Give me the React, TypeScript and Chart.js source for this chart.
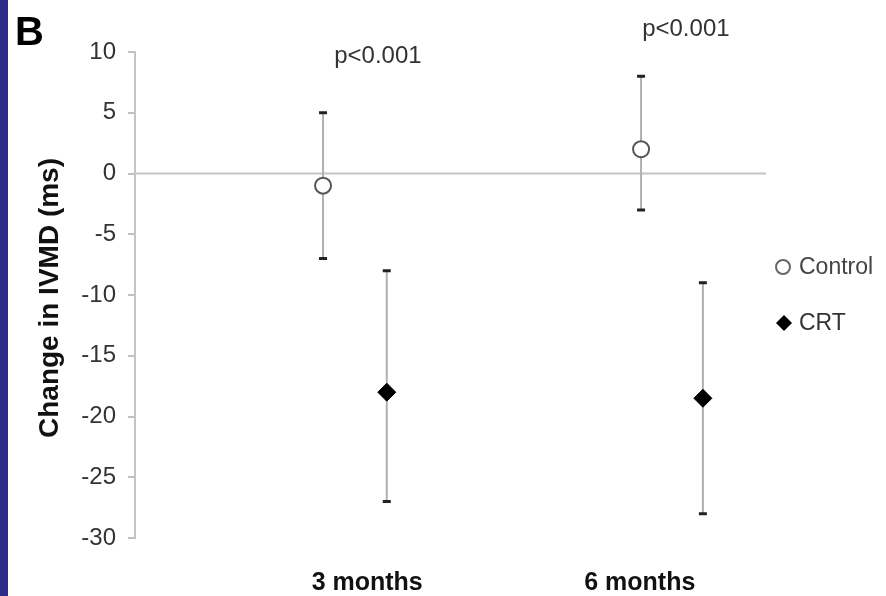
import React, { useEffect, useRef } from "react";
import { Chart, registerables } from "chart.js";

Chart.register(...registerables);

// ---- data ----
const groupLabels = ["3 months", "6 months"];
const groupLabelX = [36.8, 80.0];

const controlX = [29.8, 80.2];
const controlMean = [-1, 2];
const controlUpper = [5, 8];
const controlLower = [-7, -3];

const crtX = [39.9, 90.0];
const crtMean = [-18, -18.5];
const crtUpper = [-8, -9];
const crtLower = [-27, -28];

const pValueText = ["p<0.001", "p<0.001"];
const pValueX = [38.5, 87.3];
const pValueY = [9.6, 11.9];

const yTicks = [10, 5, 0, -5, -10, -15, -20, -25, -30];
const seriesNames = ["Control", "CRT"];
const yTitle = "Change in IVMD (ms)";
const panelLetter = "B";

const FONT = "'Liberation Sans', Arial, sans-serif";

const decorPlugin = {
  id: "decor",
  beforeDraw(chart: any) {
    const ctx = chart.ctx;
    ctx.save();
    ctx.fillStyle = "#ffffff";
    ctx.fillRect(0, 0, chart.width, chart.height);
    ctx.fillStyle = "#2c2b86";
    ctx.fillRect(0, 0, 8, chart.height);
    ctx.restore();
  },
  beforeDatasetsDraw(chart: any) {
    const ctx = chart.ctx;
    const xs = chart.scales.x;
    const ys = chart.scales.y;
    const area = chart.chartArea;
    ctx.save();
    // zero line
    const y0 = ys.getPixelForValue(0);
    ctx.strokeStyle = "#c4c4c4";
    ctx.lineWidth = 2;
    ctx.beginPath();
    ctx.moveTo(area.left, y0);
    ctx.lineTo(area.right, y0);
    ctx.stroke();
    // error bars
    const groups = [
      { x: controlX, up: controlUpper, lo: controlLower },
      { x: crtX, up: crtUpper, lo: crtLower },
    ];
    groups.forEach((g) => {
      g.x.forEach((xv, i) => {
        const px = xs.getPixelForValue(xv);
        const pu = ys.getPixelForValue(g.up[i]);
        const pl = ys.getPixelForValue(g.lo[i]);
        ctx.strokeStyle = "#b0b0b0";
        ctx.lineWidth = 2;
        ctx.beginPath();
        ctx.moveTo(px, pu);
        ctx.lineTo(px, pl);
        ctx.stroke();
        ctx.strokeStyle = "#222";
        ctx.lineWidth = 3;
        ctx.beginPath();
        ctx.moveTo(px - 4, pu);
        ctx.lineTo(px + 4, pu);
        ctx.moveTo(px - 4, pl);
        ctx.lineTo(px + 4, pl);
        ctx.stroke();
      });
    });
    ctx.restore();
  },
  afterDraw(chart: any) {
    const ctx = chart.ctx;
    const xs = chart.scales.x;
    const ys = chart.scales.y;
    ctx.save();
    // panel letter
    ctx.fillStyle = "#000";
    ctx.font = `bold 40px ${FONT}`;
    ctx.textAlign = "left";
    ctx.textBaseline = "alphabetic";
    ctx.fillText(panelLetter, 15, 45);
    // y title
    ctx.save();
    ctx.translate(50, 298);
    ctx.rotate(-Math.PI / 2);
    ctx.font = `bold 28px ${FONT}`;
    ctx.textAlign = "center";
    ctx.textBaseline = "middle";
    ctx.fillStyle = "#111";
    ctx.fillText(yTitle, 0, 0);
    ctx.restore();
    // p values
    ctx.font = `24px ${FONT}`;
    ctx.fillStyle = "#333";
    ctx.textAlign = "center";
    ctx.textBaseline = "middle";
    pValueText.forEach((t, i) => {
      ctx.fillText(t, xs.getPixelForValue(pValueX[i]), ys.getPixelForValue(pValueY[i]));
    });
    // legend
    ctx.textAlign = "left";
    ctx.font = `23px ${FONT}`;
    ctx.fillStyle = "#444";
    // control marker
    ctx.beginPath();
    ctx.arc(783, 267, 7, 0, Math.PI * 2);
    ctx.fillStyle = "#fff";
    ctx.fill();
    ctx.strokeStyle = "#666";
    ctx.lineWidth = 2;
    ctx.stroke();
    ctx.fillStyle = "#444";
    ctx.fillText(seriesNames[0], 799, 268);
    // crt marker
    ctx.beginPath();
    ctx.moveTo(784, 315);
    ctx.lineTo(792, 323);
    ctx.lineTo(784, 331);
    ctx.lineTo(776, 323);
    ctx.closePath();
    ctx.fillStyle = "#000";
    ctx.fill();
    ctx.fillStyle = "#333";
    ctx.fillText(seriesNames[1], 799, 324);
    ctx.restore();
  },
};

export default function App() {
  const ref = useRef<HTMLCanvasElement | null>(null);
  useEffect(() => {
    if (!ref.current) return;
    const chart = new Chart(ref.current, {
      type: "scatter",
      data: {
        datasets: [
          {
            label: seriesNames[0],
            data: controlX.map((x, i) => ({ x, y: controlMean[i] })),
            pointStyle: "circle",
            pointRadius: 8,
            pointBackgroundColor: "#ffffff",
            pointBorderColor: "#555",
            pointBorderWidth: 2,
          },
          {
            label: seriesNames[1],
            data: crtX.map((x, i) => ({ x, y: crtMean[i] })),
            pointStyle: "rectRot",
            pointRadius: 9,
            pointBackgroundColor: "#000",
            pointBorderColor: "#000",
            pointBorderWidth: 1,
          },
        ],
      },
      options: {
        animation: false,
        responsive: true,
        maintainAspectRatio: false,
        layout: { padding: { left: 0, right: 120, top: 52, bottom: 0 } },
        plugins: { legend: { display: false }, tooltip: { enabled: false } },
        scales: {
          x: {
            type: "linear",
            min: 0,
            max: 100,
            grid: { display: false },
            border: { display: false },
            afterBuildTicks: (axis: any) => {
              axis.ticks = groupLabelX.map((v) => ({ value: v }));
            },
            afterFit: (axis: any) => {
              axis.height = 58;
            },
            ticks: {
              autoSkip: false,
              maxRotation: 0,
              padding: 22,
              color: "#111",
              font: { family: FONT, size: 25, weight: "bold" },
              callback: (_v: any, i: number) => groupLabels[i],
            },
          },
          y: {
            type: "linear",
            min: yTicks[yTicks.length - 1],
            max: yTicks[0],
            afterBuildTicks: (axis: any) => {
              axis.ticks = yTicks.map((v) => ({ value: v }));
            },
            afterFit: (axis: any) => {
              axis.width = 135;
            },
            grid: {
              display: true,
              drawOnChartArea: false,
              drawTicks: true,
              tickLength: 7,
              color: "#c0c0c0",
              lineWidth: 2,
            },
            border: { display: true, color: "#c4c4c4", width: 2 },
            ticks: {
              padding: 12,
              color: "#333",
              font: { family: FONT, size: 24 },
              callback: (v: any) => String(v),
            },
          },
        },
      },
      plugins: [decorPlugin],
    });
    return () => chart.destroy();
  }, []);
  return (
    <div style={{ position: "absolute", left: 0, top: 0, width: 886, height: 596 }}>
      <canvas ref={ref} />
    </div>
  );
}
